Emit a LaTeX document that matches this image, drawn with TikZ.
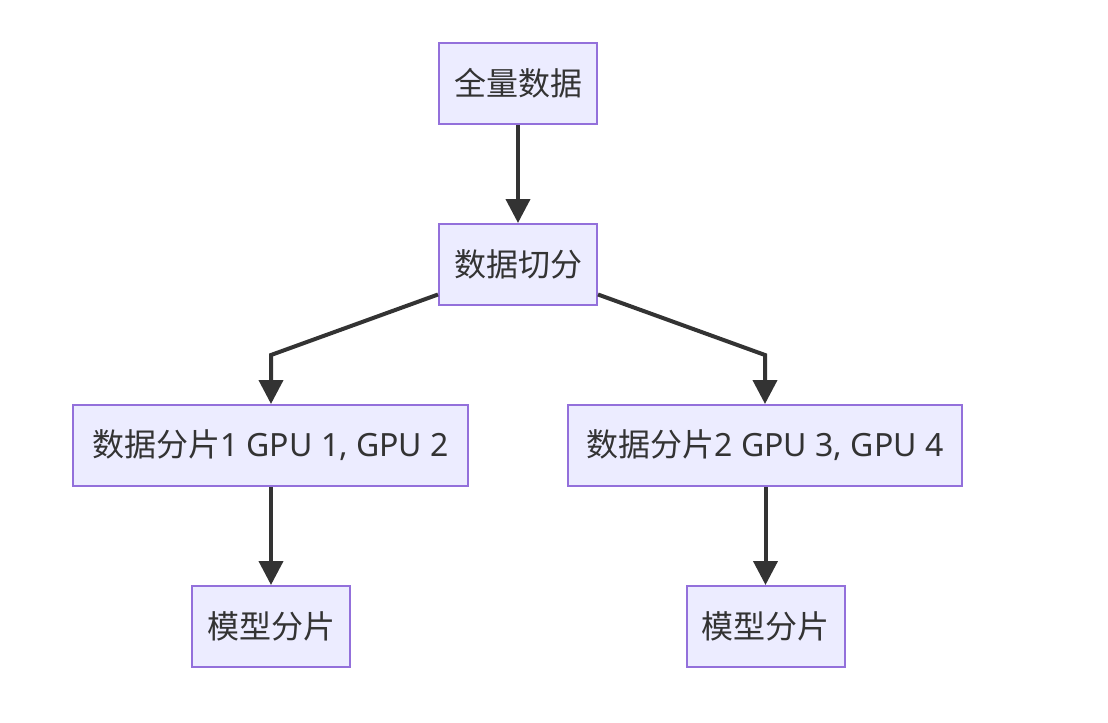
\documentclass[tikz,border=0pt]{standalone}
\usepackage{fontspec}
\setmainfont{Noto Sans}
\newfontfamily\cjk{Noto Sans CJK SC}
\usetikzlibrary{arrows.meta}
\definecolor{boxfill}{HTML}{ECECFF}
\definecolor{boxline}{HTML}{9370DB}
\definecolor{edge}{HTML}{333333}
\definecolor{txt}{HTML}{333333}
\tikzset{
  box/.style={draw=boxline, fill=boxfill, line width=1.5pt, inner sep=0pt,
    minimum height=60.75pt, text=txt, font=\fontsize{24}{28}\selectfont},
  conn/.style={draw=edge, line width=3pt, -{Triangle[width=18pt,length=18pt]}}
}
\begin{document}
\begin{tikzpicture}[x=0.75pt,y=-0.75pt]
\useasboundingbox (0,0) rectangle (1108,722);
\node[box, minimum width=118.5pt] (all) at (518,83.5) {\cjk 全量数据};
\node[box, minimum width=118.5pt] (split) at (518,264.5) {\cjk 数据切分};
\node[box, minimum width=296.25pt] (s1) at (270.5,445.5) {{\cjk 数据分片}1 GPU 1, GPU 2};
\node[box, minimum width=295.5pt] (s2) at (765,445.5) {{\cjk 数据分片}2 GPU 3, GPU 4};
\node[box, minimum width=118.5pt] (m1) at (271,626.5) {\cjk 模型分片};
\node[box, minimum width=118.5pt] (m2) at (765.5,626.5) {\cjk 模型分片};
\coordinate (b1) at (271,355);
\coordinate (b2) at (765,355);
\draw[conn] (all) -- (split);
\draw[conn] ([yshift=-22.5pt]split.west) -- (b1) -- (b1 |- s1.north);
\draw[conn] ([yshift=-22.5pt]split.east) -- (b2) -- (b2 |- s2.north);
\draw[conn] (s1.south -| m1) -- (m1);
\draw[conn] (s2.south -| m2) -- (m2);
\end{tikzpicture}
\end{document}
